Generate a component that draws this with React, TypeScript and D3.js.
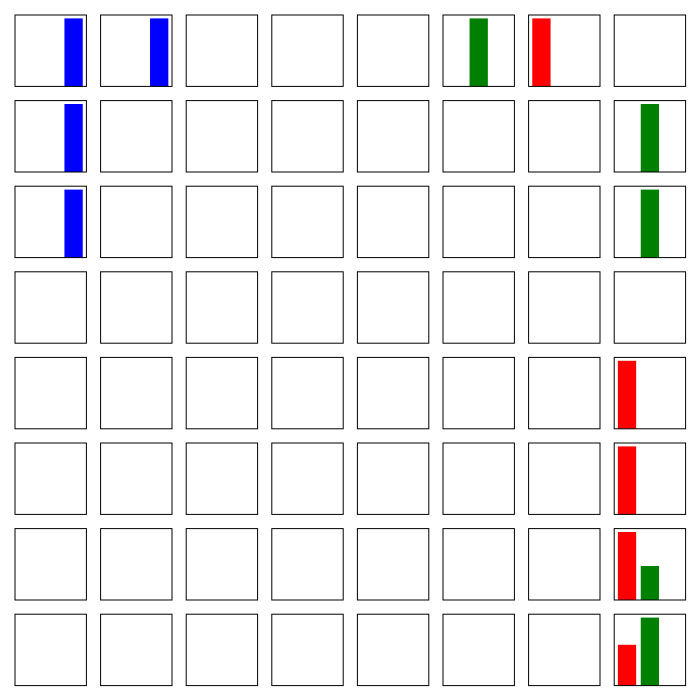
import * as d3 from "d3";

// one value per panel (row, column) for each of the three bars
const barColors = ["red", "green", "blue"];

const redValues = [
  [0, 0, 0, 0, 0, 0, 1, 0],
  [0, 0, 0, 0, 0, 0, 0, 0],
  [0, 0, 0, 0, 0, 0, 0, 0],
  [0, 0, 0, 0, 0, 0, 0, 0],
  [0, 0, 0, 0, 0, 0, 0, 1],
  [0, 0, 0, 0, 0, 0, 0, 1],
  [0, 0, 0, 0, 0, 0, 0, 1],
  [0, 0, 0, 0, 0, 0, 0, 0.6],
];

const greenValues = [
  [0, 0, 0, 0, 0, 1, 0, 0],
  [0, 0, 0, 0, 0, 0, 0, 1],
  [0, 0, 0, 0, 0, 0, 0, 1],
  [0, 0, 0, 0, 0, 0, 0, 0],
  [0, 0, 0, 0, 0, 0, 0, 0],
  [0, 0, 0, 0, 0, 0, 0, 0],
  [0, 0, 0, 0, 0, 0, 0, 0.5],
  [0, 0, 0, 0, 0, 0, 0, 1],
];

const blueValues = [
  [1, 1, 0, 0, 0, 0, 0, 0],
  [1, 0, 0, 0, 0, 0, 0, 0],
  [1, 0, 0, 0, 0, 0, 0, 0],
  [0, 0, 0, 0, 0, 0, 0, 0],
  [0, 0, 0, 0, 0, 0, 0, 0],
  [0, 0, 0, 0, 0, 0, 0, 0],
  [0, 0, 0, 0, 0, 0, 0, 0],
  [0, 0, 0, 0, 0, 0, 0, 0],
];

const W = 700;
const H = 700;
const n = 8;
const margin = 15;
const step = 85.6;
const size = 71.4;

const Panel = ({ row, col }: { row: number; col: number }) => {
  const values = [redValues[row][col], greenValues[row][col], blueValues[row][col]];
  const max = d3.max(values) || 0;
  const x = d3.scaleLinear().domain([-0.56, 2.56]).range([0, size]);
  const y = d3
    .scaleLinear()
    .domain([0, max > 0 ? max * 1.05 : 1])
    .range([size, 0]);
  const bw = x(0.4) - x(-0.4);

  return (
    <g transform={`translate(${margin + col * step},${margin + row * step})`}>
      {values.map((v, i) =>
        v > 0 ? (
          <rect
            key={i}
            x={x(i - 0.4)}
            y={y(v)}
            width={bw}
            height={y(0) - y(v)}
            fill={barColors[i]}
          />
        ) : null
      )}
      <rect
        x={0}
        y={0}
        width={size}
        height={size}
        fill="none"
        stroke="black"
        strokeWidth={1}
      />
    </g>
  );
};

export default function App() {
  const cells = d3.cross(d3.range(n), d3.range(n));
  return (
    <svg
      width={W}
      height={H}
      style={{ position: "absolute", left: 0, top: 0, background: "white" }}
    >
      {cells.map(([r, c]) => (
        <Panel key={`${r}-${c}`} row={r} col={c} />
      ))}
    </svg>
  );
}
